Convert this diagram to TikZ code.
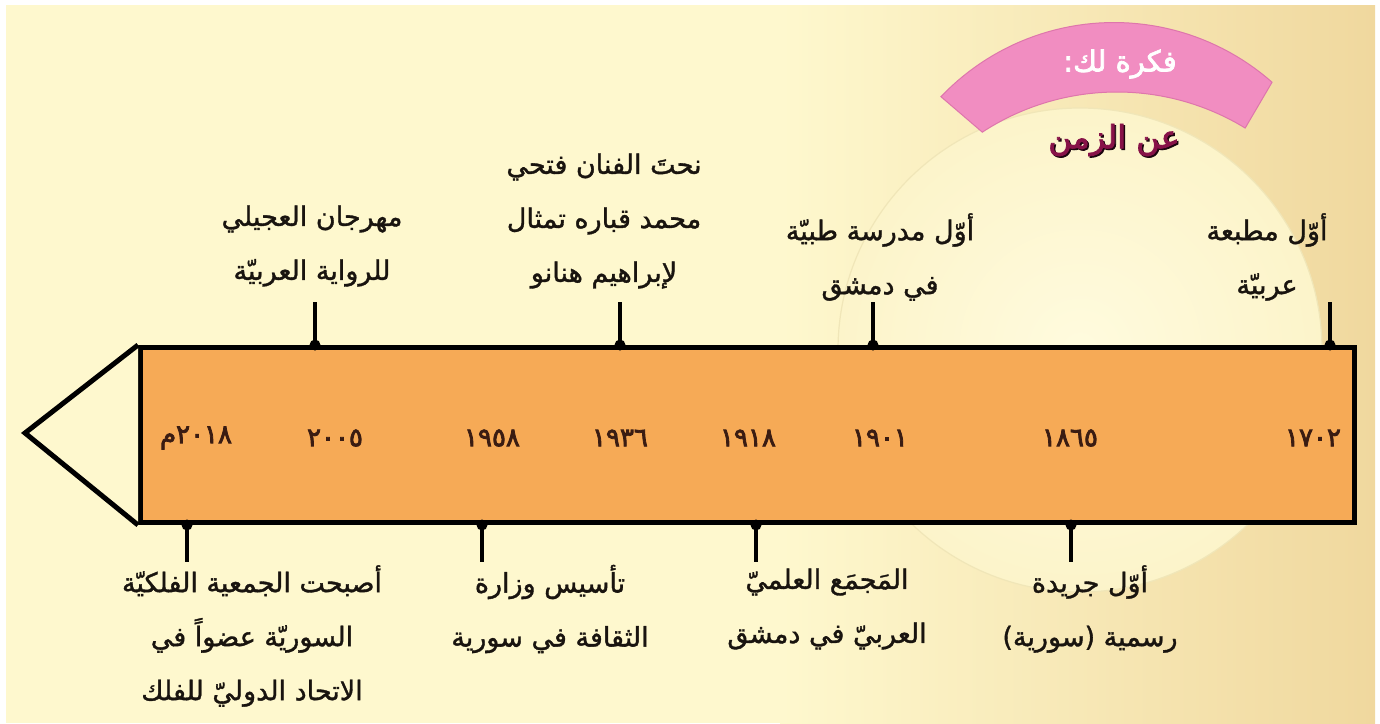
\documentclass[tikz,border=0pt]{standalone}
\usepackage{fontspec}
\TeXXeTstate=1
\newfontfamily\arfont[Script=Arabic,FakeBold=1.3]{DejaVu Sans}
\newfontfamily\arboldfont[Script=Arabic,FakeBold=2.5]{DejaVu Sans}
\newfontfamily\aryearfont[Script=Arabic,FakeBold=3]{DejaVu Sans}
\newcommand{\artxt}[1]{\beginR #1\endR}
\definecolor{creambg}{RGB}{254,248,206}
\definecolor{tanbg}{RGB}{240,216,158}
\definecolor{circin}{RGB}{255,251,222}
\definecolor{circout}{RGB}{252,244,202}
\definecolor{circedge}{RGB}{240,230,184}
\definecolor{pinkband}{RGB}{241,141,193}
\definecolor{pinkedge}{RGB}{222,118,172}
\definecolor{barfill}{RGB}{246,170,86}
\definecolor{yearcol}{RGB}{58,28,18}
\definecolor{titlecol}{RGB}{135,18,72}
\definecolor{labelcol}{RGB}{25,20,15}
\tikzset{
  lbl/.style={font=\fontsize{27}{54}\selectfont\arfont, align=center, text=labelcol, inner sep=0pt},
  yearlbl/.style={font=\fontsize{26}{30}\selectfont\aryearfont, text=yearcol, inner sep=0pt},
  tickline/.style={line width=4.5pt, draw=black},
  tickdot/.style={fill=black},
}
\begin{document}
\begin{tikzpicture}[x=1pt,y=-1pt]
\useasboundingbox (0,0) rectangle (1380,723);
% background
\fill[white] (0,0) rectangle (1380,723);
\fill[creambg] (6,5) rectangle (1375,723);
\shade[left color=creambg, right color=tanbg] (780,5) rectangle (1375,723);
% big pale circle
\shade[inner color=circin, outer color=circout] (1080,350) circle (242);
\draw[circedge, line width=1.2pt] (1080,350) circle (242);
% pink band
\filldraw[fill=pinkband, draw=pinkedge, line width=1pt]
  plot[domain=48.6:136.4, samples=50] ({1114+239*cos(\x)},{261.5-239*sin(\x)})
  -- plot[domain=123.2:58.6, samples=50] ({1117+246*cos(\x)},{338-246*sin(\x)})
  -- cycle;
\node[font=\fontsize{29}{34}\selectfont\arboldfont, text=white, inner sep=0pt] (idea) at (1120,64) {\artxt{فكرة لك:}};
\node[font=\fontsize{32}{38}\selectfont\arboldfont, text=black!80!titlecol, inner sep=0pt] at (1115.5,141.5) {\artxt{عن الزمن}};
\node[font=\fontsize{32}{38}\selectfont\arboldfont, text=titlecol, inner sep=0pt] (about) at (1114,140) {\artxt{عن الزمن}};
% timeline bar
\node[draw=black, line width=5pt, fill=barfill, minimum width=1214pt, minimum height=175pt, inner sep=0pt, anchor=north west] (bar) at (138,345) {};
\draw[line width=5pt, fill=creambg, line join=miter] (bar.north west) -- (25,433) -- (bar.south west);
% years
\node[yearlbl] (y2018) at (196,438) {\artxt{٢٠١٨م}};
\node[yearlbl] (y2005) at (335,438) {٢٠٠٥};
\node[yearlbl] (y1958) at (492,438) {١٩٥٨};
\node[yearlbl] (y1936) at (620,438) {١٩٣٦};
\node[yearlbl] (y1918) at (748,438) {١٩١٨};
\node[yearlbl] (y1901) at (880,438) {١٩٠١};
\node[yearlbl] (y1865) at (1070,438) {١٨٦٥};
\node[yearlbl] (y1702) at (1313,438) {١٧٠٢};
% ticks above
\foreach \n/\xx in {a2005/315, a1936/620, a1901/873, a1702/1330}{
  \coordinate (\n) at (\xx,302);
  \draw[tickline] (\n) -- (bar.north -| \n);
  \fill[tickdot] (bar.north -| \n) circle (5.5);
}
% ticks below
\foreach \n/\xx in {b2018/187, b1958/482, b1918/756, b1865/1071}{
  \coordinate (\n) at (\xx,562);
  \draw[tickline] (bar.south -| \n) -- (\n);
  \fill[tickdot] (bar.south -| \n) circle (5.5);
}
% labels above
\node[lbl] (l2005) at (312,246) {\artxt{مهرجان العجيلي}\\\artxt{للرواية العربيّة}};
\node[lbl] (l1936) at (604,221) {\artxt{نحتَ الفنان فتحي}\\\artxt{محمد قباره تمثال}\\\artxt{لإبراهيم هنانو}};
\node[lbl] (l1901) at (880,257) {\artxt{أوّل مدرسة طبيّة}\\\artxt{في دمشق}};
\node[lbl] (l1702) at (1267,257) {\artxt{أوّل مطبعة}\\\artxt{عربيّة}};
% labels below
\node[lbl] (l2018) at (252,636) {\artxt{أصبحت الجمعية الفلكيّة}\\\artxt{السوريّة عضواً في}\\\artxt{الاتحاد الدوليّ للفلك}};
\node[lbl] (l1958) at (550,609) {\artxt{تأسيس وزارة}\\\artxt{الثقافة في سورية}};
\node[lbl] (l1918) at (827,609) {\artxt{المَجمَع العلميّ}\\\artxt{العربيّ في دمشق}};
\node[lbl] (l1865) at (1090,609) {\artxt{أوّل جريدة}\\\artxt{رسمية (سورية)}};
\end{tikzpicture}
\end{document}
